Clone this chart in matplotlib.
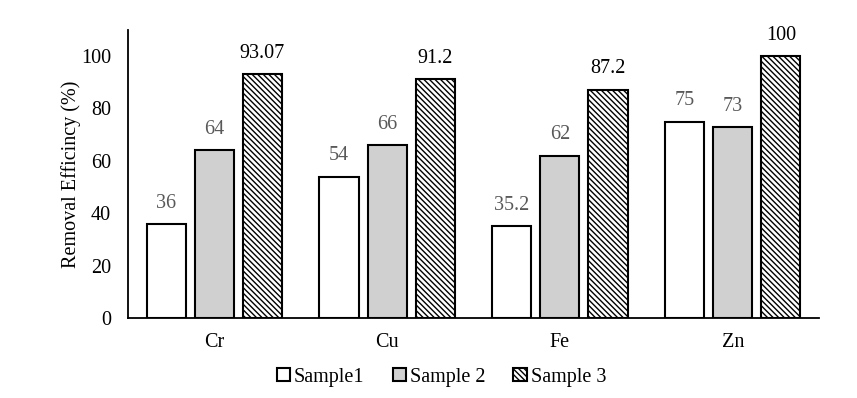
import matplotlib
matplotlib.use("Agg")
import matplotlib.pyplot as plt
import numpy as np

plt.rcParams['font.family'] = ['Liberation Serif', 'DejaVu Serif']
plt.rcParams['hatch.linewidth'] = 1.0

categories = ["Cr", "Cu", "Fe", "Zn"]
series_names = ["Sample1", "Sample 2", "Sample 3"]
sample1 = [36, 54, 35.2, 75]
sample2 = [64, 66, 62, 73]
sample3 = [93.07, 91.2, 87.2, 100]
labels1 = ["36", "54", "35.2", "75"]
labels2 = ["64", "66", "62", "73"]
labels3 = ["93.07", "91.2", "87.2", "100"]

fig = plt.figure(figsize=(8.57, 3.98), dpi=100)
ax = fig.add_axes([0.149, 0.201, 0.807, 0.724])

x = np.arange(len(categories))
w = 0.226
off = 0.278
styles = [dict(facecolor="white", hatch=None),
          dict(facecolor="#d0d0d0", hatch=None),
          dict(facecolor="white", hatch="\\\\\\\\\\\\")]
label_colors = ["#595959", "#595959", "#000000"]
data = [sample1, sample2, sample3]
labs = [labels1, labels2, labels3]
fs = 14.5
for i, (vals, st) in enumerate(zip(data, styles)):
    bars = ax.bar(x + (i - 1) * off, vals, width=w, edgecolor="black",
                  linewidth=1.5, label=series_names[i], **st)
    for b, t in zip(bars, labs[i]):
        ax.annotate(t, (b.get_x() + b.get_width() / 2, b.get_height()),
                    xytext=(0, 8), textcoords="offset points",
                    ha="center", va="bottom", fontsize=fs, color=label_colors[i])

ax.set_xlim(-0.5, 3.5)
ax.set_ylim(0, 110)
ax.set_yticks(range(0, 101, 20))
ax.set_xticks(x)
ax.set_xticklabels(categories)
ax.tick_params(axis="both", length=0, labelsize=fs)
ax.tick_params(axis="x", pad=11)
ax.tick_params(axis="y", pad=12)
for s in ["top", "right"]:
    ax.spines[s].set_visible(False)
ax.spines["left"].set_linewidth(1.3)
ax.spines["bottom"].set_linewidth(1.3)
ax.set_ylabel("Removal Efficincy (%)", fontsize=fs, labelpad=0)

leg = fig.legend(loc="center", bbox_to_anchor=(0.515, 0.052), ncol=3, frameon=False,
                 fontsize=fs, handlelength=0.65, handleheight=0.65,
                 handletextpad=0.2, columnspacing=1.4)

fig.savefig("out.png", dpi=100)
